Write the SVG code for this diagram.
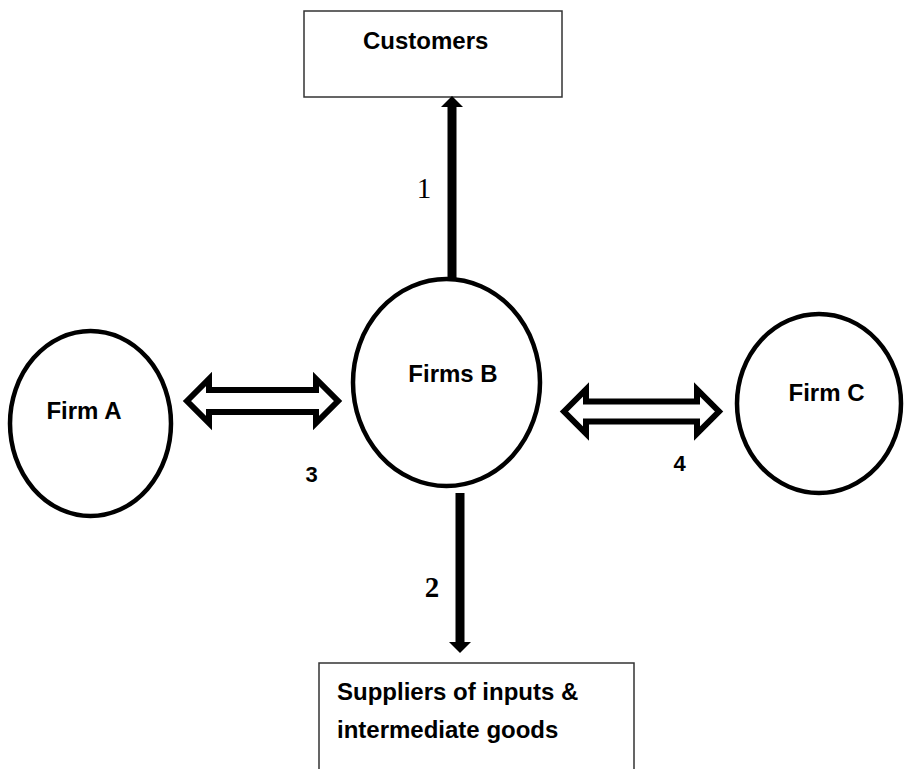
<svg xmlns="http://www.w3.org/2000/svg" width="904" height="769" viewBox="0 0 904 769">
  <style>
    .box { fill: #ffffff; stroke: #333333; stroke-width: 1.5; }
    .firm { fill: #ffffff; stroke: #000000; stroke-width: 4.5; }
    .lbl { font-family: "Liberation Sans", Arial, sans-serif; font-weight: bold; font-size: 24px; fill: #000000; }
    .num { font-family: "Liberation Sans", Arial, sans-serif; font-weight: bold; font-size: 22px; fill: #000000; text-anchor: middle; }
    .serif { font-family: "Liberation Serif", "Times New Roman", serif; font-size: 29px; fill: #000000; text-anchor: middle; }
    .flow { stroke: #000000; stroke-width: 9; fill: none; marker-end: url(#head); }
    .dbl { fill: #ffffff; stroke: #000000; stroke-width: 6; stroke-linejoin: miter; stroke-miterlimit: 10; }
  </style>
  <defs>
    <marker id="head" markerUnits="userSpaceOnUse" viewBox="0 0 11 22" markerWidth="11" markerHeight="22" refX="0" refY="11" orient="auto">
      <path d="M0,0 L11,11 L0,22 Z" fill="#000000"/>
    </marker>
  </defs>

  <g id="customers">
    <rect class="box" x="304" y="11" width="258" height="86"/>
    <text class="lbl" x="363" y="49">Customers</text>
  </g>

  <g id="suppliers">
    <path class="box" d="M319,770 V663 H634 V770"/>
    <text class="lbl" x="337" y="700">Suppliers of inputs &amp;</text>
    <text class="lbl" x="337" y="738">intermediate goods</text>
  </g>

  <g id="firm-a">
    <ellipse class="firm" cx="90.5" cy="423.5" rx="80.5" ry="92.5"/>
    <text class="lbl" x="84" y="419" text-anchor="middle">Firm A</text>
  </g>

  <g id="firms-b">
    <ellipse class="firm" cx="446.5" cy="382.5" rx="93.5" ry="103.5"/>
    <text class="lbl" x="453" y="382" text-anchor="middle">Firms B</text>
  </g>

  <g id="firm-c">
    <ellipse class="firm" cx="819" cy="403.5" rx="82" ry="89.5"/>
    <text class="lbl" x="826.5" y="401" text-anchor="middle">Firm C</text>
  </g>

  <g id="connectors">
    <line class="flow" x1="452" y1="278" x2="452" y2="107"/>
    <line class="flow" x1="460" y1="493" x2="460" y2="642"/>
    <path class="dbl" d="M187,401 L209,379 L209,390 L316,390 L316,379 L338,401 L316,423 L316,412 L209,412 L209,423 Z"/>
    <path class="dbl" d="M564,411.5 L586,389.5 L586,401.5 L697,401.5 L697,389.5 L719,411.5 L697,433.5 L697,421.5 L586,421.5 L586,433.5 Z"/>
    <text class="serif" x="424" y="198">1</text>
    <text class="serif" x="432" y="597" font-weight="bold">2</text>
    <text class="num" x="311.5" y="482">3</text>
    <text class="num" x="679.5" y="471">4</text>
  </g>
</svg>
